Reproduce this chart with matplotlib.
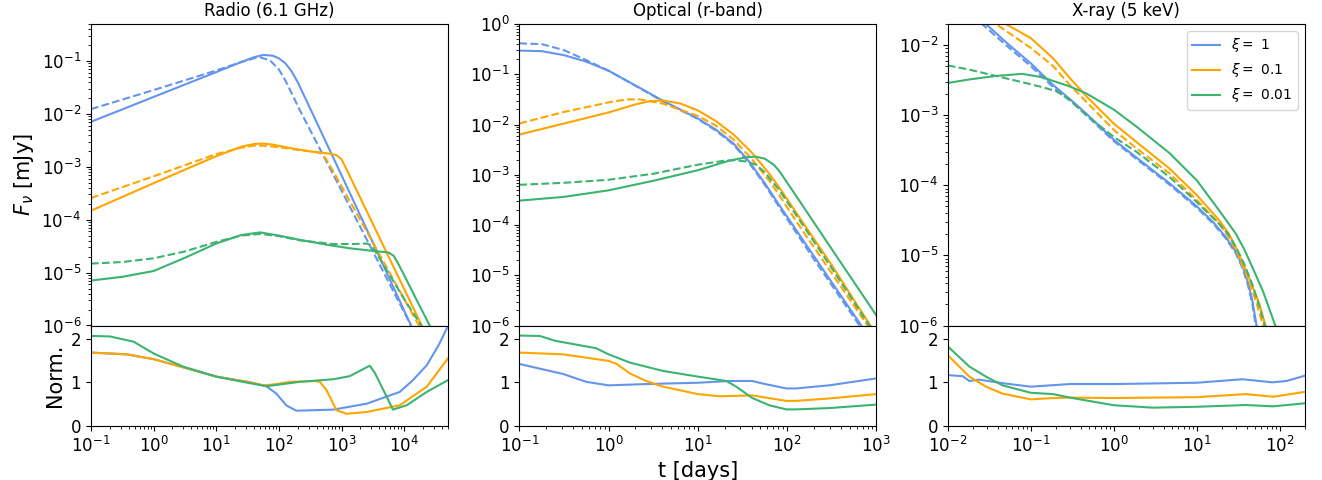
import matplotlib
matplotlib.use('Agg')
import matplotlib.pyplot as plt
import numpy as np

XI_LABELS = [r'$\xi =$ 1', r'$\xi =$ 0.1', r'$\xi =$ 0.01']
COLORS = ['cornflowerblue', 'orange', 'mediumseagreen']
BANDS = ['Radio (6.1 GHz)', 'Optical (r-band)', 'X-ray (5 keV)']

# All curves as (log10 t [days], log10 value) pairs.

# Radio (6.1 GHz), solid = full model, dashed = approximation
radio_solid_1 = [(-1, -2.15), (0, -1.68), (1, -1.21), (1.4, -1.02), (1.6, -0.93),
                 (1.75, -0.886), (1.9, -0.9), (2.0, -0.95), (2.1, -1.04), (2.2, -1.19),
                 (2.3, -1.4), (2.4, -1.65), (2.5, -1.9), (3.0, -3.16), (3.5, -4.43),
                 (4.0, -5.72), (4.15, -6.1)]
radio_dash_1 = [(-1, -1.91), (0, -1.55), (1, -1.18), (1.4, -1.02), (1.6, -0.95),
                (1.7, -0.93), (1.86, -0.99), (2.0, -1.16), (2.1, -1.36), (2.2, -1.6),
                (2.33, -1.92), (3.0, -3.45), (3.5, -4.6), (4.0, -5.75), (4.15, -6.1)]
radio_solid_2 = [(-1, -3.83), (0, -3.31), (1, -2.8), (1.4, -2.62), (1.6, -2.57),
                 (1.75, -2.56), (1.9, -2.58), (2.2, -2.65), (2.5, -2.71), (2.8, -2.75),
                 (2.92, -2.78), (3.0, -2.86), (3.06, -3.0), (3.5, -4.08), (4.0, -5.31),
                 (4.3, -6.05)]
radio_dash_2 = [(-1, -3.59), (0, -3.18), (1, -2.76), (1.4, -2.64), (1.6, -2.6),
                (1.75, -2.6), (2.0, -2.63), (2.3, -2.68), (2.6, -2.72), (2.68, -2.75),
                (2.75, -2.85), (2.85, -3.05), (3.5, -4.43), (4.0, -5.5), (4.25, -6.03)]
radio_solid_3 = [(-1, -5.15), (-0.5, -5.08), (0, -4.97), (0.5, -4.72), (1, -4.45),
                 (1.4, -4.29), (1.7, -4.24), (2.0, -4.3), (2.33, -4.38), (2.8, -4.48),
                 (3.13, -4.54), (3.5, -4.59), (3.75, -4.62), (3.83, -4.68), (3.9, -4.82),
                 (4.0, -5.05), (4.2, -5.52), (4.42, -6.03)]
radio_dash_3 = [(-1, -4.83), (-0.5, -4.8), (0, -4.73), (0.5, -4.6), (1, -4.42),
                (1.4, -4.3), (1.7, -4.27), (2.0, -4.31), (2.33, -4.39), (2.86, -4.46),
                (3.2, -4.46), (3.4, -4.45), (3.47, -4.48), (3.55, -4.62), (3.72, -4.95),
                (4.0, -5.5), (4.3, -6.05)]

# Optical (r-band)
opt_solid_1 = [(-1, -0.53), (-0.75, -0.54), (-0.5, -0.62), (-0.25, -0.75), (0, -0.93),
               (0.4, -1.32), (0.6, -1.52), (0.8, -1.7), (1.0, -1.88), (1.2, -2.1),
               (1.4, -2.38), (1.58, -2.75), (1.75, -3.17), (1.91, -3.6), (2.3, -4.62),
               (2.85, -6.05)]
opt_dash_1 = [(-1, -0.385), (-0.75, -0.4), (-0.5, -0.52), (-0.25, -0.72), (0, -0.93),
              (0.4, -1.33), (0.6, -1.53), (0.8, -1.71), (1.0, -1.89), (1.2, -2.12),
              (1.4, -2.4), (1.58, -2.78), (1.75, -3.2), (1.91, -3.64), (2.3, -4.68),
              (2.83, -6.05)]
opt_solid_2 = [(-1, -2.2), (-0.5, -1.98), (0, -1.76), (0.3, -1.6), (0.45, -1.54),
               (0.6, -1.52), (0.8, -1.58), (1.0, -1.72), (1.2, -1.93), (1.4, -2.2),
               (1.6, -2.55), (1.8, -2.98), (1.91, -3.25), (2.1, -3.75), (2.5, -4.8),
               (2.95, -6.05)]
opt_dash_2 = [(-1, -1.98), (-0.5, -1.75), (0, -1.56), (0.2, -1.5), (0.35, -1.5),
              (0.6, -1.58), (1.0, -1.83), (1.2, -2.02), (1.4, -2.3), (1.6, -2.68),
              (1.8, -3.12), (1.91, -3.4), (2.1, -3.92), (2.5, -4.96), (2.92, -6.05)]
opt_solid_3 = [(-1, -3.515), (-0.5, -3.44), (0, -3.31), (0.5, -3.12), (1.0, -2.91),
               (1.35, -2.72), (1.55, -2.65), (1.65, -2.64), (1.75, -2.68), (1.85, -2.8),
               (1.91, -2.92), (2.1, -3.42), (2.5, -4.48), (3.0, -5.8)]
opt_dash_3 = [(-1, -3.2), (-0.5, -3.16), (0, -3.1), (0.5, -2.98), (1.0, -2.8),
              (1.3, -2.72), (1.42, -2.71), (1.55, -2.74), (1.65, -2.8), (1.75, -2.95),
              (1.91, -3.3), (2.1, -3.8), (2.5, -4.86), (2.94, -6.05)]

# X-ray (5 keV)
xray_solid_1 = [(-1.7, -1.55), (-1.54, -1.7), (-1.26, -2.0), (-1.0, -2.26), (-0.73, -2.57),
                (-0.5, -2.8), (-0.33, -2.98), (0, -3.35), (0.3, -3.63), (0.67, -3.97),
                (1.0, -4.3), (1.2, -4.53), (1.35, -4.74), (1.47, -4.95), (1.55, -5.15),
                (1.62, -5.4), (1.67, -5.65), (1.72, -6.0), (1.73, -6.08)]
xray_dash_1 = [(-1.7, -1.58), (-1.3, -2.0), (-1.0, -2.3), (-0.73, -2.6), (-0.5, -2.82),
               (-0.33, -3.0), (0, -3.37), (0.3, -3.65), (0.67, -3.99), (1.0, -4.32),
               (1.2, -4.55), (1.35, -4.76), (1.47, -4.97), (1.55, -5.18), (1.62, -5.44),
               (1.67, -5.7), (1.71, -6.0), (1.72, -6.08)]
xray_solid_2 = [(-1.4, -1.62), (-1.3, -1.7), (-1.0, -1.9), (-0.73, -2.19), (-0.53, -2.47),
                (-0.33, -2.73), (0, -3.12), (0.27, -3.38), (0.67, -3.76), (1.0, -4.14),
                (1.27, -4.5), (1.38, -4.68), (1.47, -4.88), (1.63, -5.32), (1.75, -5.68),
                (1.84, -6.05)]
xray_dash_2 = [(-1.5, -1.62), (-1.42, -1.7), (-1.0, -2.04), (-0.73, -2.3), (-0.53, -2.57),
               (-0.33, -2.81), (0, -3.21), (0.27, -3.47), (0.67, -3.83), (1.0, -4.21),
               (1.27, -4.55), (1.38, -4.73), (1.47, -4.92), (1.6, -5.28), (1.72, -5.68),
               (1.81, -6.05)]
xray_solid_3 = [(-2, -2.54), (-1.74, -2.49), (-1.42, -2.44), (-1.1, -2.41), (-0.86, -2.46),
                (-0.53, -2.59), (-0.33, -2.69), (0, -2.92), (0.27, -3.16), (0.67, -3.54),
                (1.0, -3.93), (1.27, -4.36), (1.47, -4.69), (1.57, -4.91), (1.67, -5.17),
                (1.8, -5.52), (1.96, -6.05)]
xray_dash_3 = [(-2, -2.29), (-1.74, -2.35), (-1.42, -2.44), (-1.1, -2.53), (-0.86, -2.6),
               (-0.69, -2.66), (-0.53, -2.78), (-0.33, -3.0), (0, -3.31), (0.27, -3.52),
               (0.67, -3.88), (1.0, -4.24), (1.27, -4.55), (1.38, -4.7), (1.47, -4.88),
               (1.57, -5.12), (1.67, -5.42), (1.76, -5.75), (1.83, -6.05)]

# Bottom panels: (log10 t, normalisation ratio)
radio_norm_1 = [(-1, 1.68), (-0.43, 1.64), (0, 1.53), (0.53, 1.32), (1.0, 1.13),
                (1.54, 1.0), (1.75, 0.93), (1.8, 0.91), (1.96, 0.74), (2.12, 0.47),
                (2.28, 0.35), (2.87, 0.375), (3.4, 0.51), (3.93, 0.78), (4.14, 1.05),
                (4.36, 1.39), (4.55, 1.85), (4.7, 2.29)]
radio_norm_2 = [(-1, 1.68), (-0.43, 1.64), (0, 1.53), (0.53, 1.32), (1.0, 1.13),
                (1.54, 1.0), (1.75, 0.93), (1.91, 0.95), (2.18, 1.01), (2.6, 1.03),
                (2.66, 1.0), (2.76, 0.82), (2.92, 0.36), (3.08, 0.28), (3.4, 0.32),
                (3.93, 0.475), (4.36, 0.9), (4.7, 1.55)]
radio_norm_3 = [(-1, 2.06), (-0.7, 2.05), (-0.32, 1.93), (0, 1.66), (0.47, 1.36),
                (1.0, 1.13), (1.5, 0.99), (1.8, 0.91), (2.33, 1.01), (2.87, 1.07),
                (3.13, 1.14), (3.45, 1.38), (3.53, 1.22), (3.72, 0.67), (3.82, 0.375),
                (4.04, 0.475), (4.36, 0.78), (4.7, 1.05)]
opt_norm_1 = [(-1, 1.42), (-0.51, 1.19), (-0.25, 1.01), (0, 0.93), (0.42, 0.96),
              (1.0, 0.99), (1.35, 1.03), (1.61, 1.03), (1.73, 0.97), (1.99, 0.86),
              (2.1, 0.86), (2.47, 0.93), (3.0, 1.09)]
opt_norm_2 = [(-1, 1.68), (-0.51, 1.64), (0, 1.49), (0.09, 1.42), (0.24, 1.2),
              (0.42, 1.03), (0.61, 0.9), (1.0, 0.73), (1.24, 0.68), (1.61, 0.7),
              (1.99, 0.575), (2.1, 0.575), (2.47, 0.63), (3.0, 0.73)]
opt_norm_3 = [(-1, 2.07), (-0.77, 2.06), (-0.6, 1.95), (-0.14, 1.78), (0, 1.64),
              (0.24, 1.45), (0.61, 1.26), (1.0, 1.13), (1.32, 1.03), (1.43, 0.9),
              (1.61, 0.64), (1.8, 0.475), (1.99, 0.38), (2.1, 0.38), (2.47, 0.41),
              (3.0, 0.49)]
xray_norm_1 = [(-2, 1.165), (-1.82, 1.14), (-1.74, 1.03), (-1.62, 1.06), (-1.34, 0.98),
               (-1.0, 0.9), (-0.53, 0.96), (0, 0.96), (1.0, 0.99), (1.55, 1.07),
               (1.91, 1.0), (2.08, 1.03), (2.3, 1.15)]
xray_norm_2 = [(-2, 1.62), (-1.74, 1.13), (-1.54, 0.9), (-1.34, 0.74), (-1.0, 0.61),
               (-0.73, 0.64), (-0.53, 0.65), (0, 0.64), (1.0, 0.66), (1.59, 0.73),
               (1.92, 0.67), (2.3, 0.78)]
xray_norm_3 = [(-2, 1.82), (-1.74, 1.36), (-1.54, 1.13), (-1.34, 0.93), (-1.0, 0.76),
               (-0.73, 0.73), (-0.53, 0.65), (0, 0.475), (0.47, 0.42), (1.0, 0.44),
               (1.59, 0.48), (1.92, 0.45), (2.3, 0.52)]

SOLID = [[radio_solid_1, radio_solid_2, radio_solid_3],
         [opt_solid_1, opt_solid_2, opt_solid_3],
         [xray_solid_1, xray_solid_2, xray_solid_3]]
DASHED = [[radio_dash_1, radio_dash_2, radio_dash_3],
          [opt_dash_1, opt_dash_2, opt_dash_3],
          [xray_dash_1, xray_dash_2, xray_dash_3]]
NORM = [[radio_norm_1, radio_norm_2, radio_norm_3],
        [opt_norm_1, opt_norm_2, opt_norm_3],
        [xray_norm_1, xray_norm_2, xray_norm_3]]

XLIMS = [(1e-1, 5e4), (1e-1, 1e3), (1e-2, 2e2)]
YLIMS = [(1e-6, 0.5), (1e-6, 1e0), (1e-6, 2e-2)]


def unpack(points: list, log_y: bool = True):
    arr = np.array(points, dtype=float)
    t = 10 ** arr[:, 0]
    y = 10 ** arr[:, 1] if log_y else arr[:, 1]
    return t, y


def main() -> None:
    plt.rcParams['font.size'] = 12
    fig = plt.figure(figsize=(13.22, 4.8), dpi=100)
    gs = fig.add_gridspec(2, 3, height_ratios=[3, 1], hspace=0, wspace=0.2,
                          left=0.0688, right=0.987, top=0.95, bottom=0.1125)

    for col in range(3):
        ax: plt.Axes = fig.add_subplot(gs[0, col])
        rax: plt.Axes = fig.add_subplot(gs[1, col], sharex=ax)

        for i in range(3):
            t, f = unpack(SOLID[col][i])
            ax.plot(t, f, color=COLORS[i], lw=1.5, label=XI_LABELS[i])
            t, f = unpack(DASHED[col][i])
            ax.plot(t, f, color=COLORS[i], lw=1.5, ls='--')
            t, r = unpack(NORM[col][i], log_y=False)
            rax.plot(t, r, color=COLORS[i], lw=1.5)

        ax.set_xscale('log')
        ax.set_yscale('log')
        ax.set_xlim(*XLIMS[col])
        ax.set_ylim(*YLIMS[col])
        ax.tick_params(labelbottom=False, labelsize=12)
        ax.set_title(BANDS[col], fontsize=12)

        rax.set_ylim(0, 2.3)
        rax.set_yticks([0, 1, 2])
        rax.tick_params(labelsize=12)

        if col == 0:
            ax.set_ylabel(r'$F_\nu$ [mJy]', fontsize=15)
            rax.set_ylabel('Norm.', fontsize=15)
        if col == 1:
            rax.set_xlabel('t [days]', fontsize=15)
        if col == 2:
            ax.legend(loc='upper right', fontsize=10)

    fig.savefig('out.png', dpi=100)


if __name__ == '__main__':
    main()
